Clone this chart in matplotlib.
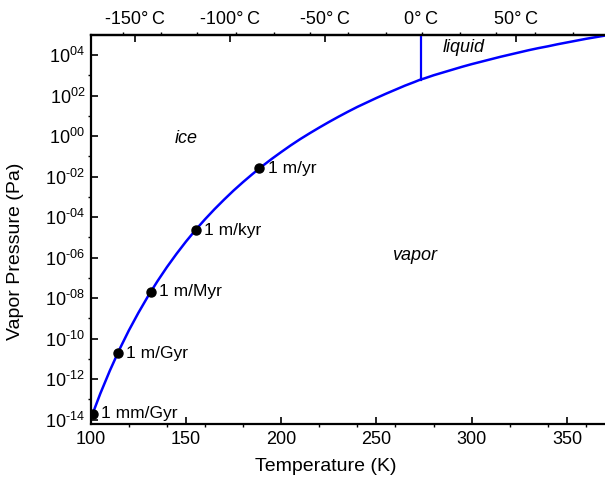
import numpy as np
import matplotlib
matplotlib.use("Agg")
import matplotlib.pyplot as plt

plt.rcParams['font.family'] = ['Liberation Sans', 'DejaVu Sans']
plt.rcParams['mathtext.fontset'] = 'custom'
plt.rcParams['mathtext.rm'] = 'Liberation Sans'
plt.rcParams['mathtext.it'] = 'Liberation Sans:italic'

# vapor pressure curve (K, log10 Pa): ice branch then liquid
curve_T = [100, 101, 105, 110, 115, 120, 125, 130, 135, 140, 145, 150, 155, 160,
           165, 170, 175, 180, 185, 190, 195, 200, 205, 210, 215, 220, 225, 230,
           235, 240, 245, 250, 255, 260, 265, 270, 273.15,
           275, 280, 285, 290, 295, 300, 305, 310, 315, 320, 325, 330, 335, 340,
           345, 350, 355, 360, 365, 370]
curve_logP = [-13.96, -13.71, -12.72, -11.59, -10.55, -9.60, -8.73, -7.92, -7.17,
              -6.47, -5.82, -5.21, -4.64, -4.11, -3.61, -3.14, -2.69, -2.27, -1.87,
              -1.49, -1.13, -0.79, -0.46, -0.15, 0.14, 0.42, 0.69, 0.95, 1.20, 1.44,
              1.66, 1.88, 2.09, 2.29, 2.49, 2.67, 2.79,
              2.84, 3.00, 3.14, 3.28, 3.42, 3.55, 3.67, 3.79, 3.91, 4.02, 4.13, 4.24,
              4.34, 4.43, 4.53, 4.62, 4.71, 4.80, 4.88, 4.96]

# marked sublimation rates
rate_T = [101.0, 114.2, 131.5, 155.0, 188.5]
rate_logP = [-13.71, -10.72, -7.69, -4.64, -1.60]
rate_labels = ["1 mm/Gyr", "1 m/Gyr", "1 m/Myr", "1 m/kyr", "1 m/yr"]

melt_T = 273.15
melt_logP = 2.79

x_ticks = [100, 150, 200, 250, 300, 350]
y_exps = [4, 2, 0, -2, -4, -6, -8, -10, -12, -14]
top_ticks_C = [-150, -100, -50, 0, 50]
top_minor_K = [117, 137, 156, 176, 196, 215, 235, 255, 274, 294, 313, 333, 353]


def exp_label(e):
    s = '%02d' % abs(e)
    if e < 0:
        s = '\u2010' + s
    return r'$10^{%s}$' % s


fig = plt.figure(figsize=(6.05, 4.83), dpi=100)
ax = fig.add_axes([0.150, 0.122, 0.850, 0.806])

ax.semilogy(curve_T, 10.0 ** np.array(curve_logP), color='#0000ff', lw=1.8, zorder=2)
ax.plot([melt_T, melt_T], [10.0 ** melt_logP, 1e6], color='#0000ff', lw=1.6, zorder=2)
ax.plot(rate_T, 10.0 ** np.array(rate_logP), 'o', color='black', ms=6.5, zorder=3)
for t, lp, lab in zip(rate_T, rate_logP, rate_labels):
    ax.annotate(lab, (t, 10.0 ** lp), xytext=(6, 0), textcoords='offset points',
                va='center', ha='left', fontsize=12.5)

ax.text(150, 10.0 ** -0.1, "ice", style='italic', fontsize=13, ha='center', va='center')
ax.text(270, 10.0 ** -5.88, "vapor", style='italic', fontsize=13, ha='center', va='center')
ax.text(296, 10.0 ** 4.35, "liquid", style='italic', fontsize=13, ha='center', va='center')

ax.set_xlim(100, 370)
ax.set_ylim(6e-15, 1e5)

ax.set_xticks(x_ticks)
ax.set_xticks(np.arange(120, 370, 20), minor=True)
ax.set_yticks([10.0 ** e for e in y_exps])
ax.set_yticklabels([exp_label(e) for e in y_exps])
ax.set_yticks([10.0 ** e for e in range(-13, 5, 2)], minor=True)
ax.yaxis.set_minor_formatter(matplotlib.ticker.NullFormatter())

ax.tick_params(which='major', direction='in', length=5, width=1.2, labelsize=13)
ax.tick_params(which='minor', direction='out', length=2.5, width=1.0)
ax.tick_params(axis='x', which='major', pad=5)
ax.tick_params(axis='y', which='major', pad=4)

ax.set_xlabel("Temperature (K)", fontsize=14)
ax.set_ylabel("Vapor Pressure (Pa)", fontsize=14)
ax.xaxis.set_label_coords(0.457, -0.087)
ax.yaxis.set_label_coords(-0.130, 0.445)

for s in ['left', 'bottom', 'top']:
    ax.spines[s].set_linewidth(1.6)
ax.spines['right'].set_visible(False)

top = ax.secondary_xaxis('top', functions=(lambda k: k - 273.15, lambda c: c + 273.15))
top.set_xticks(top_ticks_C)
top.set_xticklabels(["%d°\u2009C" % c for c in top_ticks_C])
top.set_xticks([k - 273.15 for k in top_minor_K], minor=True)
top.tick_params(which='major', direction='in', length=5, width=1.2, labelsize=13, pad=5)
top.tick_params(which='minor', direction='out', length=2.5, width=1.0)
top.spines['top'].set_linewidth(1.6)

fig.savefig("out.png", dpi=100)
